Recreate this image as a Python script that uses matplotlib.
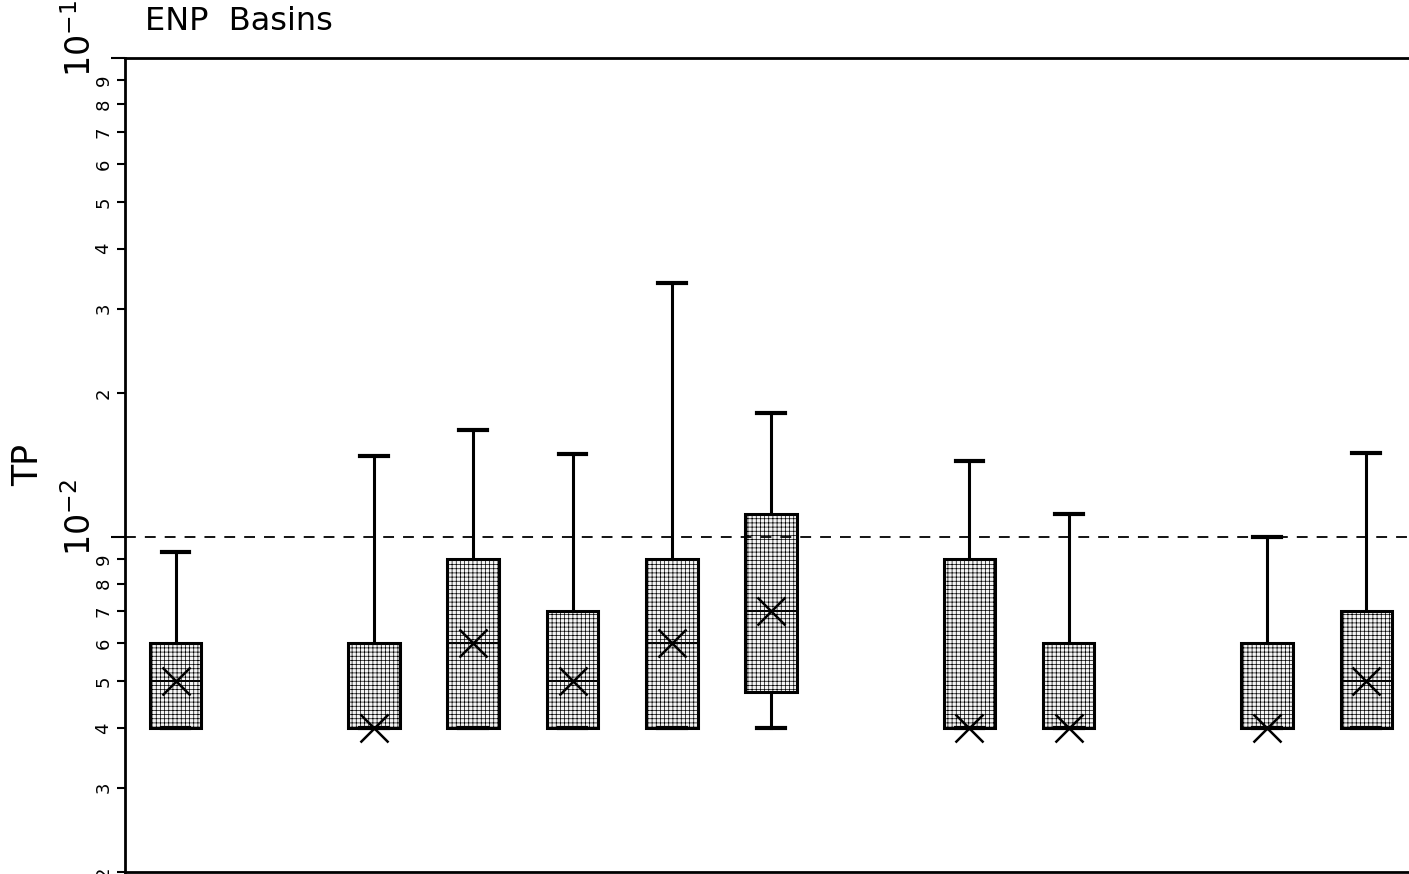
import matplotlib.pyplot as plt
from matplotlib.ticker import FixedLocator, FixedFormatter, NullFormatter
from matplotlib.transforms import ScaledTranslation

# box positions (gaps at 2, 8, 11)
positions = [1, 3, 4, 5, 6, 7, 9, 10, 12, 13]
whislo = [0.004, 0.004, 0.004, 0.004, 0.004, 0.004, 0.004, 0.004, 0.004, 0.004]
q1 = [0.004, 0.004, 0.004, 0.004, 0.004, 0.00475, 0.004, 0.004, 0.004, 0.004]
med = [0.005, 0.004, 0.006, 0.005, 0.006, 0.007, 0.004, 0.004, 0.004, 0.005]
q3 = [0.006, 0.006, 0.009, 0.007, 0.009, 0.0112, 0.009, 0.006, 0.006, 0.007]
whishi = [0.0093, 0.0148, 0.0167, 0.0149, 0.0339, 0.0182, 0.0144, 0.0112, 0.010, 0.0150]
means = [0.005, 0.004, 0.006, 0.005, 0.006, 0.007, 0.004, 0.004, 0.004, 0.005]
limit = 0.01

plt.rcParams['hatch.color'] = '#b0b0b0'
plt.rcParams['hatch.linewidth'] = 0.5

fig = plt.figure(figsize=(14.09, 8.74), dpi=100)
ax = fig.add_axes([0.0887, 0.0023, 0.9113, 0.9313])

stats = []
for i in range(len(positions)):
    stats.append(dict(whislo=whislo[i], q1=q1[i], med=med[i], q3=q3[i],
                      whishi=whishi[i], mean=means[i], fliers=[]))

bp = ax.bxp(stats, positions=positions, widths=0.52, showmeans=True,
            patch_artist=True, showfliers=False,
            boxprops=dict(facecolor='#f4f4f4', edgecolor='black', linewidth=2.2, hatch='++++'),
            medianprops=dict(color='black', linewidth=1.4),
            whiskerprops=dict(color='black', linewidth=2.2),
            capprops=dict(color='black', linewidth=3),
            meanprops=dict(marker='x', markersize=20, markeredgecolor='black',
                           markeredgewidth=1.8))
for c in bp['caps']:
    x = c.get_xdata()
    mid = (x[0] + x[1]) / 2
    c.set_xdata([mid - 0.14, mid + 0.14])

ax.axhline(limit, color='black', linestyle=(0, (6, 5)), linewidth=1.3)

ax.set_yscale('log')
ax.set_ylim(0.002, 0.1)
ax.set_xlim(0.49, 13.43)

ax.yaxis.set_major_locator(FixedLocator([0.01, 0.1]))
ax.yaxis.set_major_formatter(NullFormatter())
minors = [m * 1e-3 for m in range(2, 10)] + [m * 1e-2 for m in range(2, 10)]
ax.yaxis.set_minor_locator(FixedLocator(minors))
ax.yaxis.set_minor_formatter(FixedFormatter([str(m) for m in range(2, 10)] * 2))
ax.tick_params(axis='y', which='major', length=10, width=1.5)
ax.tick_params(axis='y', which='minor', length=6, width=1.5, labelsize=13,
               labelrotation=90, pad=3)
for lab in ax.get_yticklabels(which='minor'):
    lab.set_va('center')

# decade labels, drawn a little above their ticks like the original
off = ScaledTranslation(-0.27, 0.2, fig.dpi_scale_trans)
for val, txt in [(0.01, r'$10^{-2}$'), (0.1, r'$10^{-1}$')]:
    ax.text(0, val, txt, transform=ax.get_yaxis_transform() + off,
            rotation=90, ha='right', va='center', fontsize=24, clip_on=False)

ax.set_xticks([])
ax.spines['right'].set_visible(False)
for s in ['left', 'top', 'bottom']:
    ax.spines[s].set_linewidth(2)

ax.set_ylabel('TP', fontsize=25)
ax.yaxis.set_label_coords(-0.062, 0.5)
fig.text(0.103, 0.975, 'ENP  Basins', fontsize=23, ha='left', va='center')

fig.savefig('out.png', dpi=100)
